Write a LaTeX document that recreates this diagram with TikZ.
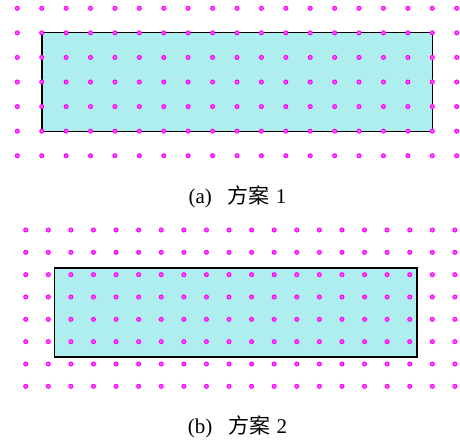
\documentclass[tikz,border=0pt]{standalone}
\usepackage{fontspec}
\setmainfont{Liberation Serif}
\newfontfamily\cjk{Noto Sans CJK SC}
\usetikzlibrary{positioning}
\definecolor{paleturq}{RGB}{175,238,238}
\definecolor{dotpink}{RGB}{255,0,255}
\definecolor{dotfill}{RGB}{255,90,255}
\begin{document}
\begin{tikzpicture}[x=1pt,y=-1pt,font=\fontsize{21}{25}\selectfont]
\tikzstyle{dt}=[fill=dotfill,draw=dotpink,line width=1pt]
\tikzstyle{bx}=[draw=black,fill=paleturq,line width=1.6pt]
\useasboundingbox (0,0) rectangle (460,441);
% scheme 1: rectangle on the grid points
\draw[bx] (41.7,32.7) rectangle (432.3,131.3);
\foreach \i in {0,...,18} \foreach \j in {0,...,6}
  \draw[dt] (17.3+\i*24.41,8.3+\j*24.57) circle[radius=2pt];
\node[anchor=base] (capa) at (237.5,203.4) {(a)\hspace{0.75em}{\cjk 方案}\hspace{0.3em}1};
% scheme 2: rectangle shifted off the grid points
\draw[bx] (54.3,267.7) rectangle (417,357);
\foreach \i in {0,...,19} \foreach \j in {0,...,7}
  \draw[dt] (25.7+\i*22.59,230+\j*22.33) circle[radius=2pt];
\node[anchor=base] (capb) at (237.5,433.4) {(b)\hspace{0.75em}{\cjk 方案}\hspace{0.3em}2};
\end{tikzpicture}
\end{document}
